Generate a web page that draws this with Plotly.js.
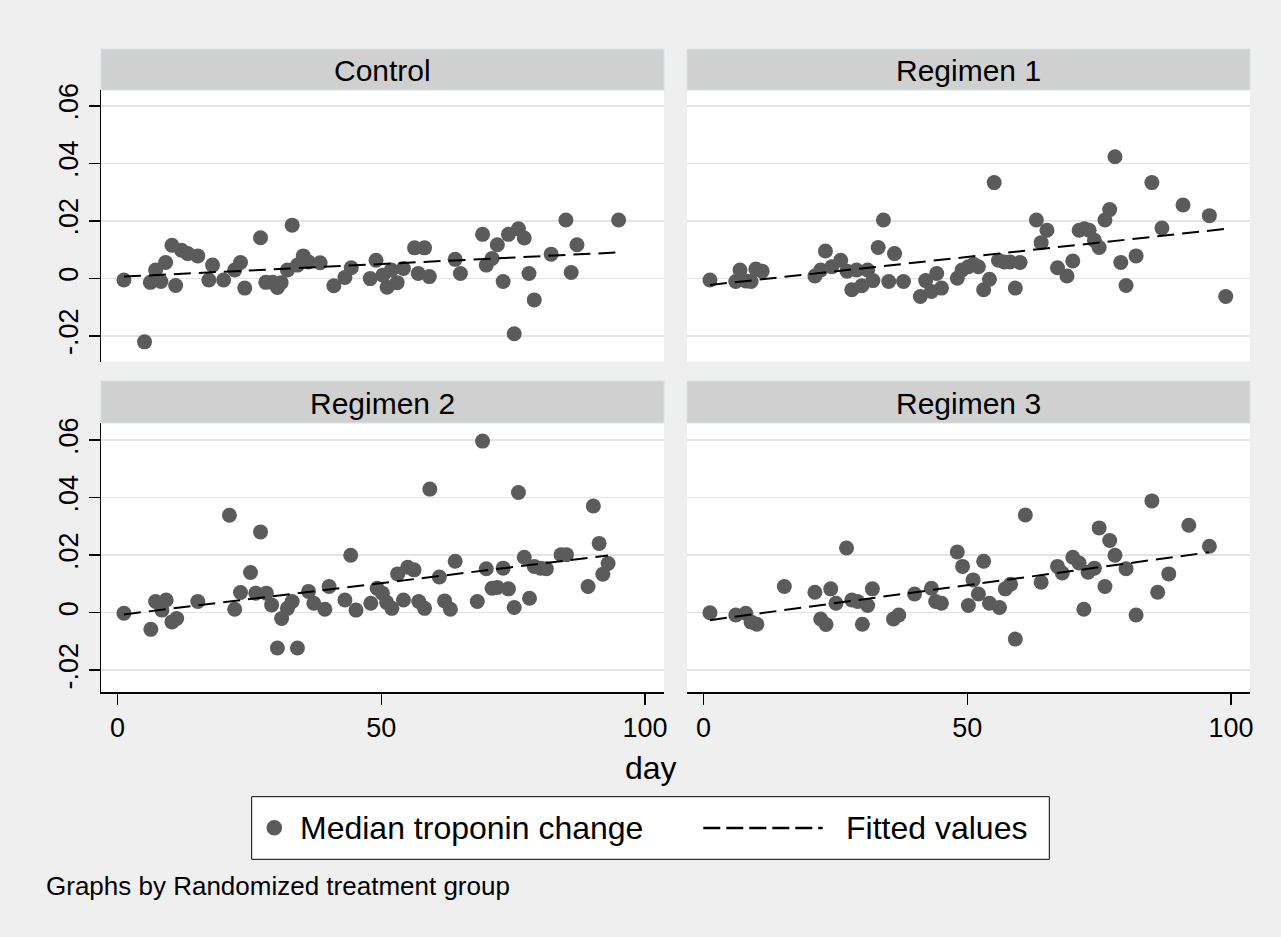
<!DOCTYPE html>
<html>
<head>
<meta charset="utf-8">
<script src="https://cdn.plot.ly/plotly-3.0.1.min.js"></script>
<style>
  html, body { margin: 0; padding: 0; background: #efefef; }
  #chart { width: 1281px; height: 937px; }
</style>
</head>
<body>
<div id="chart"></div>
<script>
// ---------------- DATA ----------------
const panelNames = ["Control", "Regimen 1", "Regimen 2", "Regimen 3"];
const seriesName = "Median troponin change";
const fitName = "Fitted values";
const xTitle = "day";
const footnote = "Graphs by Randomized treatment group";

const xTickVals = [0, 50, 100];
const xTickText = ["0", "50", "100"];
const yTickVals = [-0.02, 0, 0.02, 0.04, 0.06];
const yTickText = ["-.02", "0", ".02", ".04", ".06"];

const controlDay = [1.2, 5.1, 6.2, 7.2, 8.2, 9.1, 10.3, 11.0, 12.1, 13.3, 15.2, 18.0, 17.3, 20.1, 22.2, 23.3, 24.1, 27.1, 28.1, 29.4,
  30.3, 31.0, 32.2, 33.1, 34.1, 35.2, 36.2, 38.4, 41.0, 43.1, 44.3, 47.9, 49.0, 50.3, 51.1, 51.9, 53.0, 54.2, 56.3, 58.2,
  57.0, 59.1, 64.0, 65.0, 69.2, 69.9, 71.0, 72.0, 73.1, 74.1, 75.2, 76.0, 77.1, 78.0, 79.0, 82.2, 85.0, 86.0, 87.1, 95.0];
const controlChange = [-0.0006, -0.0221, -0.0014, 0.0029, -0.0011, 0.0055, 0.0115, -0.0025, 0.0098, 0.0086, 0.0078, 0.0046, -0.0006, -0.0006, 0.0029, 0.0055, -0.0034, 0.0141, -0.0014, -0.0014,
  -0.0032, -0.0015, 0.0029, 0.0185, 0.0046, 0.0078, 0.0057, 0.0054, -0.0026, 0.0003, 0.0037, -0.0001, 0.0063, 0.0011, -0.0031, 0.0029, -0.0015, 0.0034, 0.0106, 0.0106,
  0.0017, 0.0006, 0.0066, 0.0017, 0.0153, 0.0046, 0.0069, 0.0117, -0.0011, 0.0153, -0.0193, 0.0172, 0.0140, 0.0017, -0.0075, 0.0084, 0.0203, 0.0020, 0.0117, 0.0203];
const controlFitDay = [1.2, 94.8];
const controlFitValue = [0.0006, 0.0090];

const reg1Day = [1.2, 6.1, 6.9, 8.0, 9.0, 9.9, 11.1, 21.1, 23.1, 22.2, 24.3, 26.0, 27.2, 28.1, 29.0, 30.0, 31.1, 32.1, 33.1, 34.1,
  35.1, 36.2, 37.9, 41.1, 42.1, 43.2, 44.2, 45.1, 48.1, 49.0, 50.2, 51.2, 52.1, 53.1, 54.2, 55.1, 55.9, 57.0, 58.1, 59.1,
  60.0, 63.1, 65.1, 64.0, 67.1, 68.9, 70.0, 71.2, 72.2, 73.1, 74.1, 75.0, 76.1, 77.0, 78.0, 79.1, 80.1, 82.0, 85.0, 86.9,
  90.9, 95.9, 99.0];
const reg1Change = [-0.0006, -0.0011, 0.0029, -0.0009, -0.0011, 0.0032, 0.0025, 0.0008, 0.0095, 0.0029, 0.0040, 0.0063, 0.0025, -0.0040, 0.0029, -0.0026, 0.0029, -0.0008, 0.0107, 0.0203,
  -0.0011, 0.0086, -0.0011, -0.0063, -0.0008, -0.0046, 0.0017, -0.0034, 0.0000, 0.0029, 0.0040, 0.0049, 0.0040, -0.0040, -0.0003, 0.0333, 0.0063, 0.0057, 0.0057, -0.0034,
  0.0055, 0.0203, 0.0167, 0.0124, 0.0037, 0.0008, 0.0060, 0.0167, 0.0172, 0.0167, 0.0132, 0.0107, 0.0203, 0.0239, 0.0423, 0.0055, -0.0025, 0.0078, 0.0333, 0.0175,
  0.0255, 0.0218, -0.0063];
const reg1FitDay = [1.2, 99.0];
const reg1FitValue = [-0.0023, 0.0172];

const reg2Day = [1.2, 6.3, 7.2, 8.4, 9.2, 10.3, 11.2, 15.2, 21.2, 22.2, 23.3, 25.2, 26.2, 27.1, 28.2, 29.2, 30.3, 31.1, 32.2, 33.1,
  34.1, 36.2, 37.2, 39.3, 40.1, 43.1, 44.2, 45.2, 48.0, 49.2, 50.2, 51.0, 52.0, 53.1, 54.2, 55.0, 56.2, 57.1, 58.2, 59.2,
  61.0, 62.0, 63.1, 64.0, 68.2, 69.2, 69.9, 71.0, 72.0, 73.1, 74.1, 75.2, 76.0, 77.1, 78.1, 79.0, 80.2, 81.3, 84.1, 85.1,
  89.2, 90.2, 91.3, 92.0, 93.0];
const reg2Change = [-0.0002, -0.0058, 0.0039, 0.0009, 0.0044, -0.0032, -0.0020, 0.0039, 0.0339, 0.0012, 0.0070, 0.0140, 0.0068, 0.0281, 0.0068, 0.0027, -0.0123, -0.0020, 0.0015, 0.0039,
  -0.0123, 0.0074, 0.0033, 0.0012, 0.0091, 0.0044, 0.0200, 0.0009, 0.0033, 0.0085, 0.0068, 0.0036, 0.0015, 0.0135, 0.0044, 0.0158, 0.0149, 0.0039, 0.0015, 0.0430,
  0.0124, 0.0041, 0.0012, 0.0179, 0.0039, 0.0597, 0.0153, 0.0085, 0.0088, 0.0155, 0.0083, 0.0018, 0.0418, 0.0193, 0.0050, 0.0161, 0.0155, 0.0153, 0.0202, 0.0202,
  0.0091, 0.0371, 0.0241, 0.0134, 0.0171];
const reg2FitDay = [1.2, 93.0];
const reg2FitValue = [-0.0006, 0.0199];

const reg3Day = [1.2, 6.1, 8.0, 9.0, 10.1, 15.3, 21.1, 22.2, 23.2, 24.1, 25.1, 27.1, 28.1, 29.2, 30.1, 31.1, 32.0, 36.0, 37.0, 40.0,
  43.2, 44.0, 45.1, 48.1, 49.1, 50.2, 51.1, 52.1, 53.1, 54.2, 56.1, 57.2, 58.2, 59.1, 61.0, 64.0, 67.1, 68.0, 70.0, 71.2,
  72.1, 72.9, 74.1, 75.0, 76.1, 77.0, 78.0, 80.1, 82.0, 85.0, 86.1, 88.2, 92.0, 95.9];
const reg3Change = [0.0000, -0.0008, -0.0002, -0.0032, -0.0040, 0.0091, 0.0071, -0.0022, -0.0041, 0.0083, 0.0033, 0.0225, 0.0044, 0.0039, -0.0040, 0.0025, 0.0083, -0.0022, -0.0008, 0.0065,
  0.0085, 0.0039, 0.0033, 0.0211, 0.0161, 0.0025, 0.0114, 0.0065, 0.0179, 0.0033, 0.0018, 0.0083, 0.0099, -0.0092, 0.0340, 0.0106, 0.0161, 0.0138, 0.0193, 0.0173,
  0.0012, 0.0141, 0.0155, 0.0295, 0.0091, 0.0251, 0.0200, 0.0153, -0.0008, 0.0389, 0.0071, 0.0135, 0.0304, 0.0231];
const reg3FitDay = [1.2, 95.8];
const reg3FitValue = [-0.0026, 0.0210];

// ---------------- LAYOUT HELPERS (positions in page pixels) ----------------
const W = 1281, H = 937;
const px = x => x / W;
const py = y => 1 - y / H;
const FONT = '"Liberation Sans", Arial, sans-serif';
const DOT = '#5b5b5b';

const panels = [
  { name: panelNames[0], day: controlDay, val: controlChange, fx: controlFitDay, fy: controlFitValue, xa: 'x',  ya: 'y'  },
  { name: panelNames[1], day: reg1Day,    val: reg1Change,    fx: reg1FitDay,    fy: reg1FitValue,    xa: 'x2', ya: 'y2' },
  { name: panelNames[2], day: reg2Day,    val: reg2Change,    fx: reg2FitDay,    fy: reg2FitValue,    xa: 'x3', ya: 'y3' },
  { name: panelNames[3], day: reg3Day,    val: reg3Change,    fx: reg3FitDay,    fy: reg3FitValue,    xa: 'x4', ya: 'y4' }
];

const traces = [];
panels.forEach(p => {
  traces.push({
    type: 'scatter', mode: 'markers', name: seriesName, legendgroup: 'pts',
    x: p.day, y: p.val, xaxis: p.xa, yaxis: p.ya, showlegend: false,
    marker: { color: DOT, size: 15, line: { width: 0 } },
    hoverinfo: 'x+y'
  });
  traces.push({
    type: 'scatter', mode: 'lines', name: fitName, legendgroup: 'fit',
    x: p.fx, y: p.fy, xaxis: p.xa, yaxis: p.ya, showlegend: false,
    line: { color: '#000000', width: 2, dash: '17px,8px' },
    hoverinfo: 'x+y'
  });
});

const colL = [px(101), px(664)];
const colR = [px(687), px(1250)];
const rowT = [py(361.7), py(90)];
const rowB = [py(692), py(423)];
const xRange = [-3.15, 103.6];
const yRangeT = [-0.0290, 0.0655];
const yRangeB = [-0.0276, 0.0660];

const tickFont = { family: FONT, size: 27, color: '#000000' };

function xAxis(domain, bottom) {
  return {
    domain: domain, range: xRange, showgrid: false, zeroline: false,
    showline: bottom, linecolor: '#000000', linewidth: 1.5,
    ticks: bottom ? 'outside' : '', ticklen: 11, tickwidth: 1.5, tickcolor: '#000000',
    tickvals: xTickVals, ticktext: xTickText, showticklabels: bottom,
    tickfont: tickFont, fixedrange: true
  };
}
function yAxis(domain, range, left, anchor) {
  return {
    domain: domain, range: range, anchor: anchor, zeroline: false,
    showgrid: true, gridcolor: '#e4e4e4', gridwidth: 1.5,
    showline: left, linecolor: '#000000', linewidth: 1.5,
    ticks: left ? 'outside' : '', ticklen: 11, tickwidth: 1.5, tickcolor: '#000000',
    tickvals: yTickVals, ticktext: yTickText, showticklabels: left,
    tickangle: -90, tickfont: tickFont, fixedrange: true
  };
}

const shapes = [];
const annotations = [];

// strip headers
const headers = [
  { x: colL, y: [49, 90] }, { x: colR, y: [49, 90] },
  { x: colL, y: [381, 423] }, { x: colR, y: [381, 423] }
];
headers.forEach((h, i) => {
  shapes.push({
    type: 'rect', xref: 'paper', yref: 'paper',
    x0: h.x[0], x1: h.x[1], y0: py(h.y[1]), y1: py(h.y[0]),
    fillcolor: '#d0d0d0', line: { color: '#d4e2e9', width: 1 }, layer: 'below'
  });
  annotations.push({
    xref: 'paper', yref: 'paper', x: (h.x[0] + h.x[1]) / 2, y: py((h.y[0] + h.y[1]) / 2 + 1),
    xanchor: 'center', yanchor: 'middle', showarrow: false,
    text: panelNames[i], font: { family: FONT, size: 30, color: '#000000' }
  });
});

// x-axis title
annotations.push({
  xref: 'paper', yref: 'paper', x: px(651), y: py(768), xanchor: 'center', yanchor: 'middle',
  showarrow: false, text: xTitle, font: { family: FONT, size: 32, color: '#000000' }
});

// legend box (drawn)
shapes.push({
  type: 'rect', xref: 'paper', yref: 'paper',
  x0: px(251.7), x1: px(1049.3), y0: py(859.3), y1: py(796.7),
  fillcolor: '#ffffff', line: { color: '#000000', width: 1 }
});
shapes.push({
  type: 'circle', xref: 'paper', yref: 'paper',
  x0: px(266.5), x1: px(282.1), y0: py(835.6), y1: py(820.0),
  fillcolor: DOT, line: { width: 0 }
});
shapes.push({
  type: 'line', xref: 'paper', yref: 'paper',
  x0: px(703.3), x1: px(822.7), y0: py(828), y1: py(828),
  line: { color: '#000000', width: 2.5, dash: '17px,6px' }
});
annotations.push({
  xref: 'paper', yref: 'paper', x: px(298), y: py(828), xanchor: 'left', yanchor: 'middle',
  showarrow: false, text: seriesName, font: { family: FONT, size: 32, color: '#000000' }
});
annotations.push({
  xref: 'paper', yref: 'paper', x: px(844), y: py(828), xanchor: 'left', yanchor: 'middle',
  showarrow: false, text: fitName, font: { family: FONT, size: 32, color: '#000000' }
});

// note
annotations.push({
  xref: 'paper', yref: 'paper', x: px(44), y: py(886), xanchor: 'left', yanchor: 'middle',
  showarrow: false, text: footnote, font: { family: FONT, size: 26, color: '#000000' }
});

const layout = {
  width: W, height: H,
  margin: { l: 0, r: 0, t: 0, b: 0, pad: 0 },
  paper_bgcolor: '#efefef', plot_bgcolor: '#ffffff',
  font: { family: FONT, color: '#000000' },
  showlegend: false,
  xaxis:  Object.assign(xAxis(colL, false), { anchor: 'y' }),
  xaxis2: Object.assign(xAxis(colR, false), { anchor: 'y2' }),
  xaxis3: Object.assign(xAxis(colL, true),  { anchor: 'y3' }),
  xaxis4: Object.assign(xAxis(colR, true),  { anchor: 'y4' }),
  yaxis:  yAxis(rowT, yRangeT, true,  'x'),
  yaxis2: yAxis(rowT, yRangeT, false, 'x2'),
  yaxis3: yAxis(rowB, yRangeB, true,  'x3'),
  yaxis4: yAxis(rowB, yRangeB, false, 'x4'),
  shapes: shapes,
  annotations: annotations
};

Plotly.newPlot('chart', traces, layout, { displayModeBar: false, staticPlot: true });
</script>
</body>
</html>
